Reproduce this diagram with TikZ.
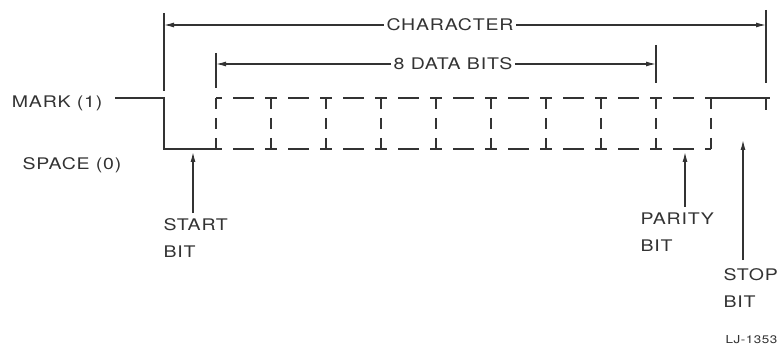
\documentclass[tikz,border=0pt]{standalone}
\usepackage{fontspec}
\setmainfont{TeX Gyre Heros}[FakeStretch=1.22, LetterSpace=5]
\usetikzlibrary{arrows.meta,positioning}

\begin{document}
\begin{tikzpicture}[x=1pt, y=-1pt, line width=1.2pt, black!80,
    font=\fontsize{16}{27}\selectfont,
    lbl/.style={inner sep=0pt, align=left},
    span/.style={inner sep=2pt},
    tip/.style={-{Latex[length=10pt,width=5pt]}},
    bitedge/.style={dash pattern=on 6pt off 11pt on 21pt off 11pt},
    bitside/.style={dash pattern=on 11pt off 9pt}]
    \useasboundingbox (0,0) rectangle (783,347);

    % levels
    \node [lbl, anchor=east] (marklbl) at (103,103) {MARK (1)};
    \node [lbl, anchor=east] (spacelbl) at (122,165) {SPACE (0)};

    % waveform up to the start bit
    \draw (115,98) -- (164,98) -- (164,149) -- (216,149);

    % data and parity bits
    \foreach \i in {0,...,8}
        \draw [bitedge] (216+55*\i,98) -- ++(55,0) (216+55*\i,149) -- ++(55,0);
    \foreach \i in {0,...,9}
        \draw [bitside] (216+55*\i,98) -- ++(0,51);

    % stop bit
    \draw (711,98) -- (770,98);
    \draw (766,98) -- (766,110);

    % spans
    \draw (164,13) -- (164,91);
    \draw (766,10) -- (766,83);
    \draw (216,53) -- (216,88);
    \draw (656,45) -- (656,83);
    \coordinate (charL) at (164,25);
    \coordinate (charR) at (766,25);
    \coordinate (dataL) at (216,64);
    \coordinate (dataR) at (656,64);
    \node [span] (charlbl) at (450,25) {CHARACTER};
    \node [span] (datalbl) at (453,64) {8 DATA BITS};
    \draw [tip] (charlbl.west) -- (charL);
    \draw [tip] (charlbl.east) -- (charR);
    \draw [tip] (datalbl.west) -- (dataL);
    \draw [tip] (datalbl.east) -- (dataR);

    % bit labels
    \coordinate (startpt) at (193,152);
    \coordinate (paritypt) at (685,152);
    \coordinate (stoppt) at (743,140);
    \node [lbl, anchor=north west] (startlbl) at (163,218) {START\\BIT};
    \node [lbl, anchor=north west] (paritylbl) at (640,212) {PARITY\\BIT};
    \node [lbl, anchor=north west] (stoplbl) at (723,268) {STOP\\BIT};
    \draw [tip, shorten <=5pt] (startpt |- startlbl.north) -- (startpt);
    \draw [tip, shorten <=5pt] (paritypt |- paritylbl.north) -- (paritypt);
    \draw [tip, shorten <=8pt] (stoppt |- stoplbl.north) -- (stoppt);

    \node [lbl, anchor=east, font=\fontsize{11}{13}\selectfont] (figno) at (778,340) {LJ-1353};
\end{tikzpicture}
\end{document}
